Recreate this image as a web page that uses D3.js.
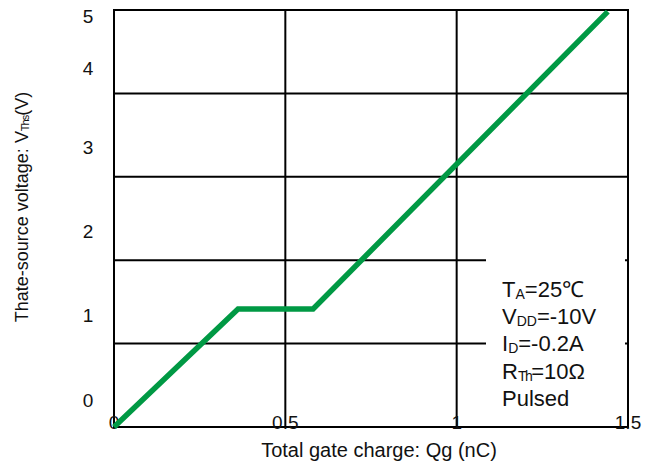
<!DOCTYPE html>
<html>
<head>
<meta charset="utf-8">
<script src="https://cdn.jsdelivr.net/npm/d3@7"></script>
<style>
  body { margin: 0; background: #fff; }
  svg text { font-family: "Liberation Sans", Arial, sans-serif; fill: #111; }
</style>
</head>
<body>
<svg id="chart" width="656" height="465"></svg>
<script>
// gate charge curve
var qg  = [0, 0.362, 0.581, 1.441];
var vgs = [0, 1.415, 1.415, 4.98];

var xTicks = [0, 0.5, 1, 1.5];
var xTickLabels = ["0", "0.5", "1", "1.5"];
var yGrid = [0, 1, 2, 3, 4, 5];
var yTickLabels = ["0", "1", "2", "3", "4", "5"];
// the labels sit off the grid lines in the original
var yTickAt = [0.32, 1.34, 2.34, 3.35, 4.3, 4.92];

var legendLines = [
  {main: "T", sub: "A", rest: "=25\u2103"},
  {main: "V", sub: "DD", rest: "=-10V"},
  {main: "I", sub: "D", rest: "=-0.2A"},
  {main: "R", sub: "Th", rest: "=10\u03a9"},
  {main: "Pulsed", sub: "", rest: ""}
];

var svg = d3.select("#chart");
var m = {left: 114, top: 10, right: 628, bottom: 427};

var x = d3.scaleLinear().domain([0, 1.5]).range([m.left, m.right]);
var y = d3.scaleLinear().domain([0, 5]).range([m.bottom, m.top]);

var gGrid = svg.append("g");
gGrid.selectAll("line.v")
  .data(xTicks)
  .enter().append("line")
  .attr("x1", function(d){ return x(d); })
  .attr("x2", function(d){ return x(d); })
  .attr("y1", m.top)
  .attr("y2", m.bottom)
  .attr("stroke", "#000")
  .attr("stroke-width", 2);
gGrid.selectAll("line.h")
  .data(yGrid)
  .enter().append("line")
  .attr("x1", m.left - 1)
  .attr("x2", m.right + 1)
  .attr("y1", function(d){ return y(d); })
  .attr("y2", function(d){ return y(d); })
  .attr("stroke", "#000")
  .attr("stroke-width", 2);

// white patch behind the conditions text
svg.append("rect")
  .attr("x", 486)
  .attr("y", 250)
  .attr("width", 139)
  .attr("height", 165)
  .attr("fill", "#fff");

// tick labels
svg.append("g").selectAll("text")
  .data(xTicks)
  .enter().append("text")
  .attr("x", function(d){ return x(d); })
  .attr("y", m.bottom + 2)
  .attr("text-anchor", "middle")
  .attr("font-size", 19)
  .text(function(d, i){ return xTickLabels[i]; });

svg.append("g").selectAll("text")
  .data(yTickAt)
  .enter().append("text")
  .attr("x", 88)
  .attr("y", function(d){ return y(d); })
  .attr("dy", "0.35em")
  .attr("text-anchor", "middle")
  .attr("font-size", 19)
  .text(function(d, i){ return yTickLabels[i]; });

// axis titles
svg.append("text")
  .attr("x", 379)
  .attr("y", 457)
  .attr("text-anchor", "middle")
  .attr("font-size", 20)
  .text("Total gate charge: Qg (nC)");

var yt = svg.append("text")
  .attr("transform", "translate(28,207) rotate(-90)")
  .attr("text-anchor", "middle")
  .attr("font-size", 18);
yt.append("tspan").text("Thate-source voltage: V");
yt.append("tspan").attr("font-size", 11).attr("dy", 1).attr("letter-spacing", -1).text("Ths");
yt.append("tspan").attr("dy", -1).text("(V)");

// conditions
var lg = svg.append("g").attr("transform", "translate(502,297)");
lg.selectAll("text")
  .data(legendLines)
  .enter().append("text")
  .attr("y", function(d, i){ return i * 27.2; })
  .attr("font-size", 22)
  .each(function(d){
    var t = d3.select(this);
    t.append("tspan").text(d.main);
    if (d.sub) {
      t.append("tspan").attr("font-size", 14).attr("dy", 2)
        .attr("letter-spacing", d.sub === "Th" ? -1.5 : 0)
        .text(d.sub);
      t.append("tspan").attr("dy", -2).attr("letter-spacing", 0).text(d.rest);
    }
  });

// curve
var line = d3.line()
  .x(function(d){ return x(d[0]); })
  .y(function(d){ return y(d[1]); });

svg.append("path")
  .datum(d3.zip(qg, vgs))
  .attr("d", line)
  .attr("fill", "none")
  .attr("stroke", "#009944")
  .attr("stroke-width", 5.5)
  .attr("stroke-linejoin", "miter");
</script>
</body>
</html>
